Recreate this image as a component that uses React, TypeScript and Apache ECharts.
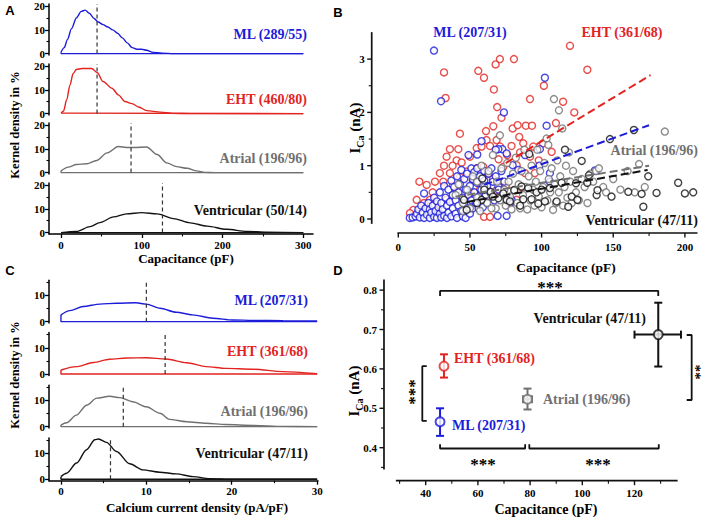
import React, { useEffect, useRef } from "react";
import * as echarts from "echarts";

const BLUE = "#1c1cd9";
const RED = "#e2231f";
const GRAY = "#707070";
const BLACK = "#111111";
const SERIF = "'Liberation Serif', 'Times New Roman', serif";
const SANS = "'Liberation Sans', Arial, sans-serif";

// ---------- Panel A : kernel density of capacitance ----------
const aNames = ["ML (289/55)", "EHT (460/80)", "Atrial (196/96)", "Ventricular (50/14)"];
const aML = [[0,0.6],[4,2.5],[8,6],[13,10.5],[19,15],[25,17.8],[30,18.3],[35,17],[41,14.8],[46,13.3],[52,12.2],[58,11.2],[64,10],[70,8.6],[76,6.6],[82,4.5],[88,2.5],[94,1.8],[100,1.8],[106,1.4],[114,0.5],[125,0.15],[140,0],[300,0]];
const aEHT = [[0,0.2],[3,1],[7,5.8],[11,12],[15,16.9],[19,18.6],[26,19],[38,19],[45,17.2],[52,13.5],[63,10.7],[71,7.9],[79,5.1],[88,4.2],[96,2.8],[106,1.25],[123,0.6],[139,0.1],[160,0],[300,0]];
const aAtrial = [[0,0.7],[9,2.3],[19,3.4],[32,3.7],[44,5.1],[57,8.3],[71,11],[81,10.6],[90,10.6],[106,10.8],[119,7.6],[131,4.1],[143,2.5],[156,1.8],[168,0.7],[178,0.1],[190,0],[300,0]];
const aVent = [[0,0],[19,0.5],[36,2.5],[48,4.2],[65,6.6],[81,7.9],[100,8.4],[119,7.9],[139,5.9],[160,4.1],[181,2.7],[205,1.4],[230,0.5],[255,0.15],[300,0]];
const aMeans = [44.6, 44.6, 86.7, 125.6];
const aXLabels = [0, 100, 200, 300];
const aXMinor = [50, 150, 250];
const aYLabels = [0, 10, 20];
const aYMinor = [5, 15];

// ---------- Panel C : kernel density of current density ----------
const cNames = ["ML (207/31)", "EHT (361/68)", "Atrial (196/96)", "Ventricular (47/11)"];
const cML = [[0,2.6],[1.05,4.2],[2.6,5.8],[4.55,6.7],[6.5,7.05],[8.8,7.2],[10,6.7],[11.6,5.1],[13.5,3.6],[15.4,2.6],[17.8,1.3],[20.1,0.64],[22.5,0.5],[26,0.4],[30,0.25]];
const cEHT = [[0,1.5],[1.8,2.8],[3.8,4.4],[5.7,5.6],[7.7,6.1],[10,6.2],[12.3,5.7],[14.7,4.3],[17,2.8],[19.3,2.15],[22.5,1.8],[26,0.9],[30,0.1]];
const cAtrial = [[0,0.6],[0.66,1.5],[1.8,4.4],[3,8.2],[4.2,10.9],[5.7,11.6],[6.9,11.1],[8.4,9.5],[10,7.6],[11.6,5.1],[12.7,2.8],[14.7,1.9],[17,1.3],[19.3,0.8],[22.5,0.5],[26,0.1],[30,0]];
const cVent = [[0,1],[0.66,2.3],[1.83,6.2],[3,11.3],[3.97,15.1],[4.4,15.4],[5.33,14.1],[6.5,10.6],[8.05,5.9],[9.6,3.6],[11.56,2.7],[13.5,2.05],[15.45,1],[17.4,0.26],[20.1,0],[30,0]];
const cMeans = [10.0, 12.2, 7.3, 5.8];
const cXLabels = [0, 10, 20, 30];
const cXMinor = [5, 15, 25];
const cYLabels = [0, 10];
const cYMinor = [5, 15];

// ---------- Panel B : I_Ca vs capacitance ----------
const bNames = ["ML (207/31)", "EHT (361/68)", "Atrial (196/96)", "Ventricular (47/11)"];
const bEHT = [[31.9,2.75],[33,2.27],[55.8,2.78],[59.8,2.65],[67.9,2.9],[70.9,3.0],[80.7,3.0],[119.8,3.25],[131.9,2.8],[66.7,2.43],[69,2.1],[101.6,2.5],[91.9,2.25],[115,2.2],[122.8,2.0],[110,1.8],[43,1.6],[61.2,1.65],[66.3,1.74],[72,1.9],[79.8,1.7],[83.3,1.76],[89,1.75],[93.3,1.75],[84.4,1.54],[36,1.31],[41.9,1.31],[33.7,1.17],[40.7,1.1],[31.9,1.0],[37.9,1.0],[44.2,1.06],[50,1.17],[54.7,1.33],[58.1,1.36],[61.6,1.48],[64,1.37],[68.6,1.48],[71,1.36],[79,1.37],[87.2,1.42],[94.2,1.36],[101,1.42],[107,1.26],[14.7,0.7],[19.8,0.64],[25.6,0.7],[31.4,0.7],[12.8,0.36],[10.5,0.17],[22,0.36],[29,0.86],[36,0.86],[43,0.79],[47.7,0.89],[54.7,0.95],[59.3,0.98],[62.8,0.86],[73.3,0.98],[82.6,1.01],[91.9,1.17],[88.4,0.86],[95.3,0.86],[59.8,0.04],[64,0.04],[68.6,0.54],[61.6,0.42],[50,0.48],[40.7,0.54],[33.7,0.36],[26.7,0.17],[8.1,0.11],[77.9,0.29],[86,0.6],[82.6,0.36],[18,0.3],[24,0.5],[28,0.12],[38,0.62],[45,0.3],[52,0.72],[57,0.55],[66,0.75],[75,0.62],[70,1.12],[76,1.2],[85,1.25],[98,1.1]];
const bML = [[24.9,3.16],[29.8,2.21],[102.3,2.65],[73.7,2.0],[103.5,1.75],[98.8,1.31],[58.1,1.46],[55.1,1.21],[72.6,1.31],[69.8,1.31],[75.6,1.23],[88.4,1.2],[79.8,1.01],[98.4,1.0],[105.8,0.86],[105.8,0.7],[137.2,0.91],[83.7,0.92],[69.8,0.61],[79,0.36],[69.3,0.06],[75.6,0.06],
  [8,0.02],[10,0.03],[12,0.05],[13,0.1],[14,0.18],[15,0.03],[16,0.25],[17,0.12],[18,0.02],[18,0.48],[19,0.2],[20,0.08],[21,0.3],[22,0.02],[22,0.18],[23,0.12],[24,0.25],[25,0.04],[25,0.4],[26,0.15],[27,0.02],[27,0.33],[28,0.22],[29,0.1],[29,0.5],[30,0.03],[30,0.3],[31,0.18],[32,0.62],[32,0.06],[33,0.4],[34,0.25],[34,0.02],[35,0.55],[35,0.12],[36,0.32],[37,0.72],[37,0.05],[38,0.2],[38,0.45],[39,0.6],[40,0.1],[40,0.35],[41,0.02],[41,0.8],[42,0.25],[42,0.5],[43,0.65],[44,0.15],[44,0.92],[45,0.4],[45,0.05],[46,0.75],[46,0.28],[47,0.55],[47,0.02],[48,0.85],[48,0.2],[49,1.2],[49,0.45],[50,0.62],[50,0.1],[51,0.95],[51,0.35],[52,0.75],[52,0.2],[53,0.5],[53,0.88],[54,0.3],[55,0.68],[55,0.95],[56,0.42],[56,0.2],[57,0.8],[58,0.55],[59,0.22],[60,0.72],[60,0.9],[61,0.45],[62,0.3],[62,0.62],[63,0.85],[64,0.5],[65,0.95],[66,0.7],[67,0.35],[68,1.3],[68,0.8],[70,0.55],[72,0.9],[74,0.7],[76,0.35],[78,0.3]];
const bAtrial = [[40,0.45],[42,0.65],[45,0.3],[48,0.55],[50,0.2],[52,0.8],[55,0.4],[57,0.15],[58,1.0],[60,0.6],[62,0.3],[63,0.9],[65,0.45],[66,1.2],[68,0.2],[69,0.7],[70.9,1.57],[71,0.35],[72,0.95],[74,0.55],[75,0.25],[76,1.05],[77,0.7],[78,0.42],[79,0.18],[80,0.85],[81,0.55],[82,1.15],[83,0.3],[84,0.65],[85,0.2],[86,0.9],[87,0.45],[88,1.3],[89,0.6],[90,0.18],[91,0.8],[92,0.35],[93,1.0],[94,0.55],[95,0.25],[96,0.7],[97,1.3],[98,0.42],[99,0.9],[100,0.22],[101,0.6],[102,1.05],[103.5,1.51],[104,0.35],[104.7,1.39],[105,0.75],[106,0.5],[107,0.95],[108,0.17],[108.6,2.25],[109,0.65],[110,0.3],[111,1.1],[112.1,2.04],[112,0.5],[113,0.8],[114.4,1.7],[115,0.25],[116,0.6],[117,1.0],[118,0.4],[119,1.25],[120,0.7],[121,0.3],[122,0.9],[124,0.5],[126,0.35],[128,0.75],[130,0.6],[132,0.3],[134,0.85],[136,0.7],[138,0.9],[140,0.95],[143,0.6],[145,0.5],[150,0.75],[155,0.55],[160,0.9],[165,0.5],[168,1.03],[172,0.6],[186,1.64],[45,0.15],[55,0.7],[65,0.2]];
const bVent = [[45.8,0.36],[47.7,0.17],[58.1,0.36],[58.6,0.76],[64.4,0.51],[69.8,0.39],[73.3,0.48],[75.6,0.36],[77.9,0.33],[80.9,0.54],[86,0.61],[87.2,0.37],[90.7,0.58],[91.4,1.22],[93,0.37],[96.5,0.5],[97.7,0.29],[102.3,0.33],[105.8,0.58],[110.5,0.33],[114,0.68],[116.3,1.3],[118.6,0.23],[121,0.42],[124,0.67],[128,1.09],[131.9,0.68],[133,0.82],[138.4,0.45],[139,0.54],[147.7,1.5],[148.8,0.42],[160.5,0.51],[164.4,1.67],[169.8,0.47],[171,0.23],[174.4,0.8],[180.2,0.49],[195.3,0.68],[200,0.48],[205.8,0.5],[55,0.3],[60,0.55],[66,0.42],[85,0.25],[100,0.55],[125,0.36]];
const bFitEHT = [[75, 1.05], [176, 2.7]];
const bFitML = [[60, 0.64], [175, 1.76]];
const bFitAtrial = [[40, 0.42], [175, 1.0]];
const bFitVent = [[48, 0.32], [174, 0.92]];
const bXLabels = [0, 50, 100, 150, 200];
const bXMinor = [25, 75, 125, 175];
const bYLabels = [0, 1, 2, 3];
const bYMinor = [0.5, 1.5, 2.5];

// ---------- Panel D : mean +/- SEM ----------
const dNames = ["ML (207/31)", "EHT (361/68)", "Atrial (196/96)", "Ventricular (47/11)"];
const dX = [45.5, 47.0, 79.0, 129.1];
const dY = [0.466, 0.607, 0.523, 0.687];
const dYLo = [0.43, 0.578, 0.497, 0.606];
const dYHi = [0.50, 0.637, 0.55, 0.768];
const dXLo = [45.5, 47.0, 77.3, 120.0];
const dXHi = [45.5, 47.0, 80.7, 137.8];
const dBracketTop = [[45.5, 0.785], [45.5, 0.798], [129.1, 0.798], [129.1, 0.785]];
const dBracketLeft = [[40.4, 0.607], [38.7, 0.607], [38.7, 0.468], [40.4, 0.468]];
const dBracketRight = [[140.0, 0.686], [141.9, 0.686], [141.9, 0.521], [140.0, 0.521]];
const dBracketBot1 = [[45.5, 0.409], [45.5, 0.398], [78.1, 0.398], [78.1, 0.409]];
const dBracketBot2 = [[79.7, 0.409], [79.7, 0.398], [129.3, 0.398], [129.3, 0.409]];
const dXLabels = [40, 60, 80, 100, 120];
const dXMinor = [30, 50, 70, 90, 110, 130];
const dYLabels = [0.4, 0.5, 0.6, 0.7, 0.8];
const dYMinor = [0.35, 0.45, 0.55, 0.65, 0.75];

const COLORS = [BLUE, RED, GRAY, BLACK];

const tickFont = { fontFamily: SERIF, fontWeight: "bold", fontSize: 11, color: "#000" };

function makeAxes(dim: "x" | "y", gridIndex: number, min: number, max: number, labels: number[], minor: number[], show: boolean, margin = 4) {
  const base: any = { type: "value", gridIndex, min, max, splitLine: { show: false }, position: dim === "x" ? "bottom" : "left" };
  if (!show) return [{ ...base, show: false, axisLine: { onZero: false } }];
  return [
    {
      ...base,
      axisLine: { show: true, onZero: false, lineStyle: { color: "#000", width: 1.5 } },
      axisTick: { show: true, customValues: labels, length: 4, lineStyle: { color: "#000", width: 1.3 } },
      axisLabel: { show: true, customValues: labels, margin, ...tickFont },
    },
    {
      ...base,
      axisLine: { show: false, onZero: false },
      axisTick: { show: true, customValues: minor, length: 2.5, lineStyle: { color: "#000", width: 1.1 } },
      axisLabel: { show: false },
    },
  ];
}

function txt(text: string, x: number, y: number, o: any = {}) {
  return {
    type: "text", x, y, rotation: o.rot || 0, silent: true, z: 50,
    style: {
      text, fill: o.color || "#000",
      font: `${o.weight || "bold"} ${o.size || 14}px ${o.family || SERIF}`,
      align: o.align || "center", verticalAlign: "middle",
    },
  };
}

function buildOption() {
  const grid: any[] = [];
  const xAxis: any[] = [];
  const yAxis: any[] = [];
  const series: any[] = [];
  const graphic: any[] = [];

  const addGrid = (g: any) => { grid.push({ ...g, containLabel: false, outerBoundsMode: "none" }); return grid.length - 1; };
  const addX = (list: any[]) => { const i = xAxis.length; xAxis.push(...list); return i; };
  const addY = (list: any[]) => { const i = yAxis.length; yAxis.push(...list); return i; };

  const density = (xi: number, yi: number, curve: number[][], color: string, mean: number, ymax: number) => {
    const last = curve[curve.length - 1][0];
    series.push({ type: "line", xAxisIndex: xi, yAxisIndex: yi, data: [[0, curve[0][1]], [0, 0], [last, 0]], symbol: "none", silent: true, clip: false, lineStyle: { color, width: 1.4 }, z: 2 });
    series.push({ type: "line", xAxisIndex: xi, yAxisIndex: yi, data: curve, smooth: 0.3, smoothMonotone: "x", symbol: "none", silent: true, clip: false, lineStyle: { color, width: 1.4 }, z: 2 });
    series.push({ type: "line", xAxisIndex: xi, yAxisIndex: yi, data: [[mean, 0], [mean, ymax]], symbol: "none", silent: true, clip: false, lineStyle: { color: "#333", width: 1.2, type: [4, 3] }, z: 3 });
  };

  // Detached axes (spines, ticks, tick labels) for panels B and D, drawn by a custom series
  // through the panel's own scales, as thin filled rectangles.
  const detachedAxes = (xi: number, yi: number, xSpan: number[], yAt: number, ySpan: number[], xAt: number,
                        xMaj: number[], xMin: number[], yMaj: number[], yMin: number[], xLabelGap: number, yLabelGap: number) => {
    const items = [
      [0, 9],
      ...xMaj.map((v) => [v, 0]), ...xMin.map((v) => [v, 1]),
      ...yMaj.map((v) => [v, 2]), ...yMin.map((v) => [v, 3]),
    ];
    const font = `bold 11px ${SERIF}`;
    const ink = { fill: "#111111" };
    series.push({
      type: "custom", xAxisIndex: xi, yAxisIndex: yi, clip: false, silent: true, z: 6,
      data: items, encode: { x: 0 },
      renderItem: (_p: any, api: any) => {
        const v = api.value(0), kind = api.value(1);
        const w = 1.7;
        if (kind === 9) {
          const a = api.coord([xSpan[0], yAt]), b = api.coord([xSpan[1], yAt]);
          const c = api.coord([xAt, ySpan[0]]), d = api.coord([xAt, ySpan[1]]);
          return {
            type: "group", children: [
              { type: "rect", shape: { x: a[0] - w / 2, y: a[1] - w / 2, width: b[0] - a[0] + w, height: w }, style: ink },
              { type: "rect", shape: { x: c[0] - w / 2, y: d[1] - w / 2, width: w, height: c[1] - d[1] + w }, style: ink },
            ],
          };
        }
        const major = kind === 0 || kind === 2;
        const len = major ? 4.5 : 3;
        const tw = major ? 1.4 : 1.1;
        const children: any[] = [];
        if (kind < 2) {
          const p = api.coord([v, yAt]);
          children.push({ type: "rect", shape: { x: p[0] - tw / 2, y: p[1], width: tw, height: len }, style: ink });
          if (major) children.push({ type: "text", x: p[0], y: p[1] + xLabelGap, style: { text: String(v), fill: "#000", font, align: "center", verticalAlign: "middle", textAlign: "center", textVerticalAlign: "middle" } });
        } else {
          const p = api.coord([xAt, v]);
          children.push({ type: "rect", shape: { x: p[0] - len, y: p[1] - tw / 2, width: len, height: tw }, style: ink });
          if (major) children.push({ type: "text", x: p[0] - yLabelGap, y: p[1], style: { text: String(v), fill: "#000", font, align: "right", verticalAlign: "middle", textAlign: "right", textVerticalAlign: "middle" } });
        }
        return { type: "group", children };
      },
    });
  };

  // ----- Panel A -----
  const aCurves = [aML, aEHT, aAtrial, aVent];
  const aTops = [4, 64, 123, 183];
  const aMin = -0.6, aMax = 20.9;
  aCurves.forEach((curve, i) => {
    const gi = addGrid({ left: 49, top: aTops[i], width: 264, height: 51 });
    const xi = addX(makeAxes("x", gi, -14.9, 312, aXLabels, aXMinor, i === 3, 5));
    const yi = addY(makeAxes("y", gi, aMin, aMax, aYLabels, aYMinor, true));
    density(xi, yi, curve, COLORS[i], aMeans[i], aMax);
  });
  graphic.push(txt(aNames[0], 307, 34, { align: "right", color: BLUE }));
  graphic.push(txt(aNames[1], 307, 99, { align: "right", color: RED }));
  graphic.push(txt(aNames[2], 307, 158, { align: "right", color: GRAY }));
  graphic.push(txt(aNames[3], 307, 210, { align: "right", color: BLACK }));
  graphic.push(txt("Capacitance (pF)", 186, 258, { size: 13 }));
  graphic.push(txt("Kernel density in %", 15, 125, { size: 12.5, rot: Math.PI / 2 }));
  graphic.push(txt("A", 10, 10, { family: SANS, size: 13 }));

  // ----- Panel C -----
  const cCurves = [cML, cEHT, cAtrial, cVent];
  const cTops = [280.3, 332.6, 385.3, 437.9];
  const cMin = -0.55, cMax = 15.8;
  cCurves.forEach((curve, i) => {
    const gi = addGrid({ left: 49, top: cTops[i], width: 269, height: 42.8 });
    const xi = addX(makeAxes("x", gi, -1.4, 30.1, cXLabels, cXMinor, i === 3, 5));
    const yi = addY(makeAxes("y", gi, cMin, cMax, cYLabels, cYMinor, true));
    density(xi, yi, curve, COLORS[i], cMeans[i], cMax);
  });
  graphic.push(txt(cNames[0], 308, 300, { align: "right", color: BLUE }));
  graphic.push(txt(cNames[1], 308, 351, { align: "right", color: RED }));
  graphic.push(txt(cNames[2], 308, 411, { align: "right", color: GRAY }));
  graphic.push(txt(cNames[3], 308, 453, { align: "right", color: BLACK }));
  graphic.push(txt("Calcium current density (pA/pF)", 197, 507, { size: 13 }));
  graphic.push(txt("Kernel density in %", 15, 375, { size: 12.5, rot: Math.PI / 2 }));
  graphic.push(txt("C", 10, 270, { family: SANS, size: 13 }));

  // ----- Panel B ----- (grid spans 360..700 x 30..240 px; axes drawn by the custom series)
  {
    const xMin = -26.73, xMax = 210.54, yMin = -0.394, yMax = 3.546;
    const gi = addGrid({ left: 360, top: 30, width: 340, height: 210 });
    const xi = addX(makeAxes("x", gi, xMin, xMax, [], [], false));
    const yi = addY(makeAxes("y", gi, yMin, yMax, [], [], false));
    const scat = (data: number[][], color: string, z: number) => ({
      type: "scatter", xAxisIndex: xi, yAxisIndex: yi, data, symbol: "circle", symbolSize: 7, clip: false, silent: true, z,
      itemStyle: { color: "#fff", borderColor: color, borderWidth: 1.4 },
    });
    series.push(scat(bEHT, RED, 2));
    series.push(scat(bML, BLUE, 2));
    series.push(scat(bAtrial, GRAY, 2));
    series.push(scat(bVent, BLACK, 2));
    const fit = (data: number[][], color: string) => ({
      type: "line", xAxisIndex: xi, yAxisIndex: yi, data, symbol: "none", silent: true, clip: false, z: 4,
      lineStyle: { color, width: 2, type: [8, 4] },
    });
    series.push(fit(bFitEHT, RED));
    series.push(fit(bFitML, BLUE));
    series.push(fit(bFitAtrial, GRAY));
    series.push(fit(bFitVent, BLACK));
    detachedAxes(xi, yi, [0, 208.2], -0.263, [-0.075, 3.49], -18.56, bXLabels, bXMinor, bYLabels, bYMinor, 13.5, 7);
  }
  graphic.push(txt(bNames[0], 470, 32, { color: BLUE }));
  graphic.push(txt(bNames[1], 622, 32, { color: RED }));
  graphic.push(txt(bNames[2], 698, 150, { align: "right", color: GRAY }));
  graphic.push(txt(bNames[3], 698, 220, { align: "right", color: BLACK }));
  graphic.push(txt("Capacitance (pF)", 566, 267, { size: 13.5 }));
  graphic.push(txt("B", 338, 12, { family: SANS, size: 13 }));

  // ----- Panel D ----- (grid spans 376..706 x 276..488 px; axes drawn by the custom series)
  {
    const xMin = 20.96, xMax = 147.39, yMin = 0.2977, yMax = 0.8358;
    const gi = addGrid({ left: 376, top: 276, width: 330, height: 212 });
    const xi = addX(makeAxes("x", gi, xMin, xMax, [], [], false));
    const yi = addY(makeAxes("y", gi, yMin, yMax, [], [], false));
    series.push({
      type: "custom", xAxisIndex: xi, yAxisIndex: yi, clip: false, silent: true, z: 3,
      data: dX.map((x, i) => [x, dY[i], dYLo[i], dYHi[i], dXLo[i], dXHi[i]]),
      encode: { x: 0, y: 1 },
      renderItem: (params: any, api: any) => {
        const i = params.dataIndex;
        const color = COLORS[i];
        const x = api.value(0), y = api.value(1);
        const lo = api.coord([x, api.value(2)]);
        const hi = api.coord([x, api.value(3)]);
        const xl = api.coord([api.value(4), y]);
        const xh = api.coord([api.value(5), y]);
        const st = { stroke: color, lineWidth: 2 };
        const cap = 4;
        const ch: any[] = [
          { type: "line", shape: { x1: lo[0], y1: lo[1], x2: hi[0], y2: hi[1] }, style: st },
          { type: "line", shape: { x1: lo[0] - cap, y1: lo[1], x2: lo[0] + cap, y2: lo[1] }, style: st },
          { type: "line", shape: { x1: hi[0] - cap, y1: hi[1], x2: hi[0] + cap, y2: hi[1] }, style: st },
        ];
        if (xh[0] - xl[0] > 1) {
          ch.push({ type: "line", shape: { x1: xl[0], y1: xl[1], x2: xh[0], y2: xh[1] }, style: st });
          ch.push({ type: "line", shape: { x1: xl[0], y1: xl[1] - cap, x2: xl[0], y2: xl[1] + cap }, style: st });
          ch.push({ type: "line", shape: { x1: xh[0], y1: xh[1] - cap, x2: xh[0], y2: xh[1] + cap }, style: st });
        }
        return { type: "group", children: ch };
      },
    });
    series.push({
      type: "scatter", xAxisIndex: xi, yAxisIndex: yi, symbol: "circle", symbolSize: 9, clip: false, silent: true, z: 5,
      data: dX.map((x, i) => ({ value: [x, dY[i]], itemStyle: { color: "#fff", borderColor: COLORS[i], borderWidth: 2 } })),
    });
    [dBracketTop, dBracketLeft, dBracketRight, dBracketBot1, dBracketBot2].forEach((b) => {
      series.push({ type: "line", xAxisIndex: xi, yAxisIndex: yi, data: b, symbol: "none", silent: true, clip: false, z: 3, lineStyle: { color: "#111", width: 1.8 } });
    });
    detachedAxes(xi, yi, [28.9, 136.2], 0.3162, [0.347, 0.825], 24.02, dXLabels, dXMinor, dYLabels, dYMinor, 12, 7);
  }
  graphic.push(txt(dNames[3], 646, 318, { align: "right", color: BLACK }));
  graphic.push(txt(dNames[1], 454, 358, { align: "left", color: RED }));
  graphic.push(txt(dNames[2], 543, 399, { align: "left", color: GRAY }));
  graphic.push(txt(dNames[0], 452, 425, { align: "left", color: BLUE }));
  graphic.push(txt("***", 550, 287, { size: 17 }));
  graphic.push(txt("***", 483, 464, { size: 17 }));
  graphic.push(txt("***", 598, 464, { size: 17 }));
  graphic.push(txt("***", 414, 392, { size: 17, rot: Math.PI / 2 }));
  graphic.push(txt("**", 700, 372, { size: 15, rot: Math.PI / 2 }));
  graphic.push(txt("Capacitance (pF)", 546, 509, { size: 14 }));
  graphic.push(txt("D", 338, 270, { family: SANS, size: 13 }));

  // I_Ca titles
  const ica = (x: number, y: number) => ({
    type: "text", x, y, rotation: Math.PI / 2, silent: true, z: 50,
    style: {
      text: "{a|I}{b|Ca}{a| (nA)}", align: "center", verticalAlign: "middle",
      rich: {
        a: { fontFamily: SERIF, fontWeight: "bold", fontSize: 15, lineHeight: 20, fill: "#000" },
        b: { fontFamily: SERIF, fontWeight: "bold", fontSize: 10, lineHeight: 11, verticalAlign: "bottom", fill: "#000" },
      },
    },
  });
  graphic.push(ica(355, 128));
  graphic.push(ica(354, 391));

  return { animation: false, backgroundColor: "#fff", grid, xAxis, yAxis, series, graphic };
}

export default function App() {
  const ref = useRef<HTMLDivElement>(null);
  useEffect(() => {
    const chart = echarts.init(ref.current!, null, { renderer: "svg" });
    chart.setOption(buildOption() as any);
    return () => chart.dispose();
  }, []);
  return <div ref={ref} style={{ position: "fixed", left: 0, top: 0, width: 708, height: 521, background: "#fff" }} />;
}
